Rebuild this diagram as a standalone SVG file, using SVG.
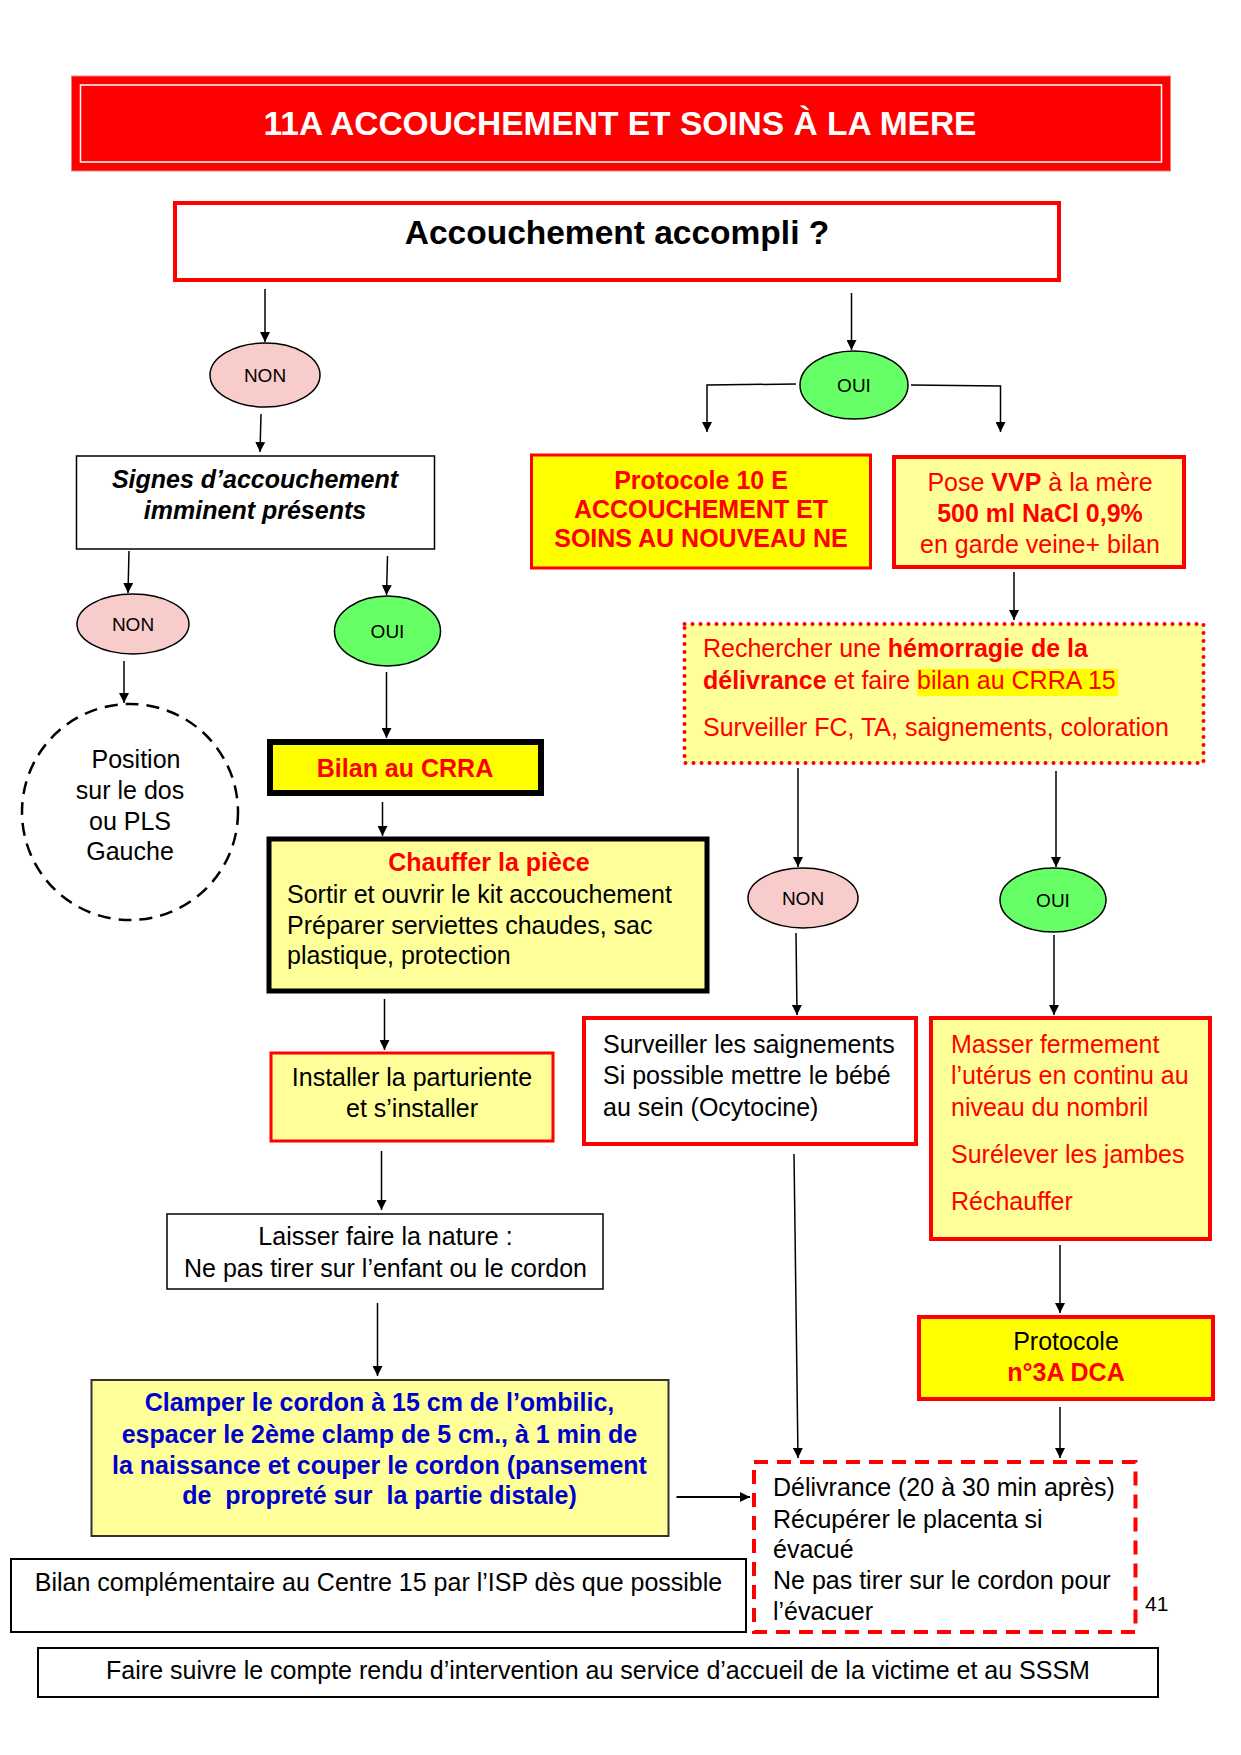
<svg xmlns="http://www.w3.org/2000/svg" width="1241" height="1755" viewBox="0 0 1241 1755">
<defs>
<marker id="ah" viewBox="0 0 10 10" refX="10" refY="5" markerWidth="10" markerHeight="10" markerUnits="userSpaceOnUse" orient="auto">
<path d="M0,0 L10,5 L0,10 z" fill="#000"/>
</marker>
</defs>
<style>
text{font-family:"Liberation Sans",Arial,sans-serif;font-size:25px;fill:#000}
.c{text-anchor:middle}
.b{font-weight:bold}
.r{fill:#ff0000}
.bl{fill:#0000cc}
.lbl{font-size:19px}
.conn line,.conn polyline{stroke:#000;stroke-width:1.5;fill:none;marker-end:url(#ah)}
.non{fill:#f9cccc;stroke:#000;stroke-width:1.5}
.oui{fill:#66ff66;stroke:#000;stroke-width:1.5}
.yel{fill:#ffff00}
.pale{fill:#ffff99}
</style>
<rect width="1241" height="1755" fill="#fff"/>

<g id="title">
<rect x="71.5" y="76" width="1099" height="95" fill="#ff0000" stroke="#f08080" stroke-width="1"/>
<rect x="80.5" y="85" width="1081" height="77" fill="none" stroke="#fff" stroke-width="1.5"/>
<text x="620" y="135" class="c b" style="font-size:33.5px;fill:#fff">11A ACCOUCHEMENT ET SOINS À LA MERE</text>
</g>

<g id="q-accouchement">
<rect x="175" y="203" width="884" height="77" fill="#fff" stroke="#ff0000" stroke-width="4"/>
<text x="617" y="244" class="c b" style="font-size:33.5px">Accouchement accompli ?</text>
</g>

<g id="non1"><ellipse cx="265" cy="375" rx="55" ry="32" class="non"/><text x="265" y="382" class="c lbl">NON</text></g>
<g id="oui1"><ellipse cx="854" cy="385" rx="54" ry="34" class="oui"/><text x="854" y="392" class="c lbl">OUI</text></g>

<g id="signes">
<rect x="76.5" y="456" width="358" height="93" fill="#fff" stroke="#000" stroke-width="1.5"/>
<text x="255" y="488" class="c b" style="font-style:italic">Signes d’accouchement</text>
<text x="255" y="519" class="c b" style="font-style:italic">imminent présents</text>
</g>

<g id="protocole10e">
<rect x="531.5" y="455" width="339" height="113" class="yel" stroke="#ff0000" stroke-width="3"/>
<text x="701" y="489" class="c b r">Protocole 10 E</text>
<text x="701" y="518" class="c b r">ACCOUCHEMENT ET</text>
<text x="701" y="547" class="c b r">SOINS AU NOUVEAU NE</text>
</g>

<g id="vvp">
<rect x="894" y="457" width="290" height="110" class="pale" stroke="#ff0000" stroke-width="4"/>
<text x="1040" y="491" class="c r">Pose <tspan class="b">VVP</tspan> à la mère</text>
<text x="1040" y="522" class="c b r">500 ml NaCl 0,9%</text>
<text x="1040" y="553" class="c r">en garde veine+ bilan</text>
</g>

<g id="hemorragie">
<rect x="684.5" y="624" width="519" height="139" class="pale" stroke="#ff0000" stroke-width="4" stroke-dasharray="0 8" stroke-linecap="round"/>
<rect x="917" y="669" width="201" height="27" fill="#ffff00"/>
<text x="703" y="657" class="r">Rechercher une <tspan class="b">hémorragie de la</tspan></text>
<text x="703" y="689" class="r"><tspan class="b">délivrance</tspan> et faire bilan au CRRA 15</text>
<text x="703" y="736" class="r">Surveiller FC, TA, saignements, coloration</text>
</g>

<g id="non2"><ellipse cx="133" cy="624" rx="56" ry="30" class="non"/><text x="133" y="631" class="c lbl">NON</text></g>
<g id="oui2"><ellipse cx="387.5" cy="631" rx="53" ry="35" class="oui"/><text x="387.5" y="638" class="c lbl">OUI</text></g>

<g id="position">
<circle cx="130" cy="812" r="108" fill="#fff" stroke="#000" stroke-width="2.5" stroke-dasharray="13 8"/>
<text x="136" y="768" class="c">Position</text>
<text x="130" y="799" class="c">sur le dos</text>
<text x="130" y="830" class="c">ou PLS</text>
<text x="130" y="860" class="c">Gauche</text>
</g>

<g id="bilan-crra">
<rect x="270" y="742" width="271" height="51" class="yel" stroke="#000" stroke-width="6"/>
<text x="405" y="777" class="c b r">Bilan au CRRA</text>
</g>

<g id="chauffer">
<rect x="269" y="839" width="438" height="152" class="pale" stroke="#000" stroke-width="5"/>
<text x="489" y="871" class="c b r">Chauffer la pièce</text>
<text x="287" y="903">Sortir et ouvrir le kit accouchement</text>
<text x="287" y="934">Préparer serviettes chaudes, sac</text>
<text x="287" y="964">plastique, protection</text>
</g>

<g id="installer">
<rect x="271" y="1053" width="282" height="88" class="pale" stroke="#ff0000" stroke-width="3"/>
<text x="412" y="1086" class="c">Installer la parturiente</text>
<text x="412" y="1117" class="c">et s’installer</text>
</g>

<g id="laisser">
<rect x="167" y="1214" width="436" height="75" fill="#fff" stroke="#000" stroke-width="1.5"/>
<text x="385.5" y="1245" class="c">Laisser faire la nature :</text>
<text x="385.5" y="1277" class="c">Ne pas tirer sur l’enfant ou le cordon</text>
</g>

<g id="clamper">
<rect x="91.5" y="1380" width="577" height="156" class="pale" stroke="#333" stroke-width="2"/>
<text x="379.5" y="1411" class="c b bl">Clamper le cordon à 15 cm de l’ombilic,</text>
<text x="379.5" y="1443" class="c b bl">espacer le 2ème clamp de 5 cm., à 1 min de</text>
<text x="379.5" y="1474" class="c b bl">la naissance et couper le cordon (pansement</text>
<text x="379.5" y="1504" class="c b bl" style="white-space:pre">de  propreté sur  la partie distale)</text>
</g>

<g id="non3"><ellipse cx="803" cy="898" rx="55" ry="30" class="non"/><text x="803" y="905" class="c lbl">NON</text></g>
<g id="oui3"><ellipse cx="1053" cy="900" rx="53" ry="32" class="oui"/><text x="1053" y="907" class="c lbl">OUI</text></g>

<g id="surveiller">
<rect x="584" y="1018" width="332" height="126" fill="#fff" stroke="#ff0000" stroke-width="4"/>
<text x="603" y="1053">Surveiller les saignements</text>
<text x="603" y="1084">Si possible mettre le bébé</text>
<text x="603" y="1116">au sein (Ocytocine)</text>
</g>

<g id="masser">
<rect x="931" y="1018" width="279" height="221" class="pale" stroke="#ff0000" stroke-width="4"/>
<text x="951" y="1053" class="r">Masser fermement</text>
<text x="951" y="1084" class="r">l’utérus en continu au</text>
<text x="951" y="1116" class="r">niveau du nombril</text>
<text x="951" y="1163" class="r">Surélever les jambes</text>
<text x="951" y="1210" class="r">Réchauffer</text>
</g>

<g id="protocole3a">
<rect x="919" y="1317" width="294" height="82" class="yel" stroke="#ff0000" stroke-width="4"/>
<text x="1066" y="1350" class="c">Protocole</text>
<text x="1066" y="1381" class="c b r">n°3A DCA</text>
</g>

<g id="delivrance">
<rect x="754" y="1462" width="381.5" height="170" fill="#fff" stroke="#ff0000" stroke-width="4" stroke-dasharray="14 9"/>
<text x="773" y="1496">Délivrance (20 à 30 min après)</text>
<text x="773" y="1528">Récupérer le placenta si</text>
<text x="773" y="1558">évacué</text>
<text x="773" y="1589">Ne pas tirer sur le cordon pour</text>
<text x="773" y="1620">l’évacuer</text>
</g>

<g id="bilan-complementaire">
<rect x="11" y="1559" width="735" height="73" fill="#fff" stroke="#000" stroke-width="2"/>
<text x="378.5" y="1591" class="c">Bilan complémentaire au Centre 15 par l’ISP dès que possible</text>
</g>

<g id="faire-suivre">
<rect x="38" y="1648" width="1120" height="49" fill="#fff" stroke="#000" stroke-width="2"/>
<text x="598" y="1679" class="c">Faire suivre le compte rendu d’intervention au service d’accueil de la victime et au SSSM</text>
</g>

<g id="page-number"><text x="1145" y="1611" style="font-size:21px">41</text></g>

<g id="connectors" class="conn">
<line x1="265" y1="289" x2="265" y2="342"/>
<line x1="851.5" y1="293" x2="851.5" y2="350"/>
<polyline points="796,384 707,385 707,432"/>
<polyline points="911,385 1000.5,386 1000.5,432"/>
<line x1="261" y1="414" x2="260" y2="452"/>
<line x1="1014" y1="572" x2="1014" y2="620"/>
<line x1="129" y1="551" x2="128" y2="593"/>
<line x1="387.5" y1="556" x2="386.5" y2="595"/>
<line x1="124" y1="661" x2="124" y2="703"/>
<line x1="386.5" y1="672" x2="386.5" y2="738"/>
<line x1="382.5" y1="802" x2="382.5" y2="836"/>
<line x1="384.5" y1="999" x2="384.5" y2="1050"/>
<line x1="381.5" y1="1151" x2="381.5" y2="1210"/>
<line x1="377.5" y1="1303" x2="377.5" y2="1376"/>
<line x1="676.5" y1="1497" x2="750" y2="1497" style="stroke-width:2"/>
<line x1="798" y1="768" x2="798" y2="867"/>
<line x1="1056" y1="771" x2="1056" y2="867"/>
<line x1="796" y1="933" x2="797" y2="1015"/>
<line x1="1054" y1="935" x2="1054" y2="1015"/>
<line x1="1060" y1="1245" x2="1060" y2="1313"/>
<line x1="794" y1="1154" x2="798" y2="1458"/>
<line x1="1060" y1="1407" x2="1060" y2="1458"/>
</g>
</svg>
